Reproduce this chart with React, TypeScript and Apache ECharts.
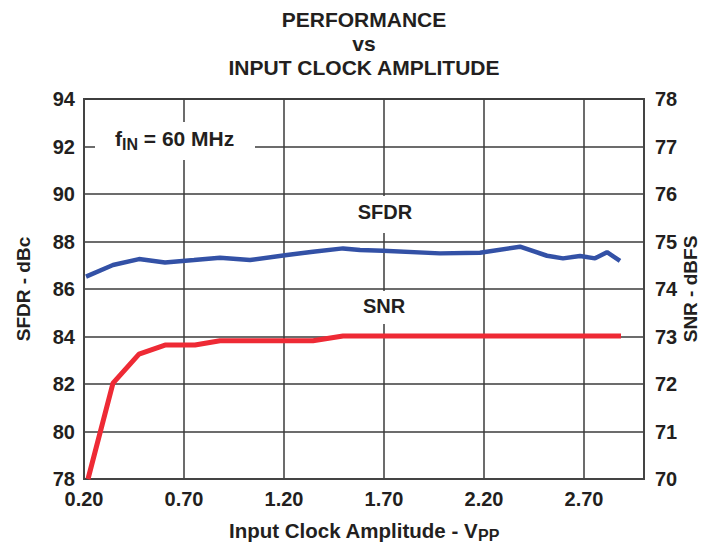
import React, { useEffect, useRef } from "react";
import * as echarts from "echarts";

// Input clock amplitude (V p-p) and measured values
const sfdrX = [0.21, 0.345, 0.475, 0.605, 0.75, 0.88, 1.03, 1.215, 1.345, 1.495, 1.58, 1.695, 1.98, 2.18, 2.38, 2.515, 2.595, 2.68, 2.755, 2.815, 2.88];
const sfdrDbc = [86.52, 87.01, 87.26, 87.12, 87.22, 87.32, 87.22, 87.43, 87.57, 87.71, 87.64, 87.61, 87.5, 87.53, 87.78, 87.4, 87.29, 87.39, 87.29, 87.55, 87.18];

const snrX = [0.22, 0.345, 0.475, 0.605, 0.755, 0.88, 1.345, 1.495, 2.885];
const snrDbfs = [70.0, 72.02, 72.63, 72.82, 72.82, 72.91, 72.91, 73.01, 73.01];

const xMin = 0.2;
const xMax = 3.0;
const xStep = 0.5;
const leftMin = 78;
const leftMax = 94;
const leftStep = 2;
const rightMin = 70;
const rightMax = 78;
const rightStep = 1;

const TXT = "#231f20";
const FONT = "'Liberation Sans', Arial, sans-serif";

export default function App() {
  const ref = useRef<HTMLDivElement>(null);

  useEffect(() => {
    if (!ref.current) return;
    const chart = echarts.init(ref.current, null, { renderer: "svg" });
    const labelBox = (x: number, y: number, w: number, h: number) => ({
      type: "rect",
      z: 10,
      shape: { x, y, width: w, height: h },
      style: { fill: "#ffffff" },
    });
    chart.setOption({
      animation: false,
      backgroundColor: "#ffffff",
      textStyle: { fontFamily: FONT, color: TXT },
      title: {
        text: "PERFORMANCE\nvs\nINPUT CLOCK AMPLITUDE",
        left: 364,
        top: 7,
        padding: 0,
        textAlign: "center",
        textStyle: {
          fontFamily: FONT,
          fontSize: 21,
          fontWeight: "bold",
          color: TXT,
          lineHeight: 24,
        },
      },
      grid: {
        left: 84,
        right: 64,
        top: 99,
        bottom: 69,
        containLabel: false,
        outerBoundsMode: "none",
        show: true,
        borderColor: "#444",
        borderWidth: 2,
        backgroundColor: "transparent",
      },
      xAxis: {
        type: "value",
        min: xMin,
        max: xMax,
        interval: xStep,
        name: "{a|Input Clock Amplitude - V}{s|PP}",
        nameLocation: "middle",
        nameGap: 38,
        nameTextStyle: {
          rich: {
            a: { fontFamily: FONT, fontSize: 20.5, fontWeight: "bold", color: TXT },
            s: { fontFamily: FONT, fontSize: 16, fontWeight: "bold", color: TXT, padding: [10, 0, 0, 0] },
          },
        },
        axisLine: { show: true, lineStyle: { color: "#444", width: 2 } },
        axisTick: { show: false },
        axisLabel: {
          margin: 10,
          fontFamily: FONT,
          fontSize: 20,
          fontWeight: "bold",
          color: TXT,
          showMaxLabel: false,
          formatter: (v: number) => v.toFixed(2),
        },
        splitLine: { show: true, lineStyle: { color: "#3b3b3b", width: 1.5 } },
      },
      yAxis: [
        {
          type: "value",
          min: leftMin,
          max: leftMax,
          interval: leftStep,
          position: "left",
          name: "SFDR - dBc",
          nameLocation: "middle",
          nameGap: 51,
          nameTextStyle: { fontFamily: FONT, fontSize: 19, fontWeight: "bold", color: TXT },
          axisLine: { show: true, lineStyle: { color: "#444", width: 2 } },
          axisTick: { show: false },
          axisLabel: { margin: 9, fontFamily: FONT, fontSize: 20, fontWeight: "bold", color: TXT },
          splitLine: { show: true, lineStyle: { color: "#3b3b3b", width: 1.5 } },
        },
        {
          type: "value",
          min: rightMin,
          max: rightMax,
          interval: rightStep,
          position: "right",
          name: "SNR - dBFS",
          nameLocation: "middle",
          nameGap: 37,
          nameRotate: 90,
          nameMoveOverlap: false,
          nameTextStyle: { fontFamily: FONT, fontSize: 19, fontWeight: "bold", color: TXT },
          axisLine: { show: true, lineStyle: { color: "#444", width: 2 } },
          axisTick: { show: false },
          axisLabel: { margin: 11, fontFamily: FONT, fontSize: 20, fontWeight: "bold", color: TXT },
          splitLine: { show: false },
        },
      ],
      series: [
        {
          name: "SFDR",
          type: "line",
          yAxisIndex: 0,
          showSymbol: false,
          z: 5,
          data: sfdrX.map((x, i) => [x, sfdrDbc[i]]),
          lineStyle: { color: "#3351A6", width: 4.5 },
          itemStyle: { color: "#3351A6" },
        },
        {
          name: "SNR",
          type: "line",
          yAxisIndex: 1,
          showSymbol: false,
          z: 5,
          data: snrX.map((x, i) => [x, snrDbfs[i]]),
          lineStyle: { color: "#EE2A35", width: 5 },
          itemStyle: { color: "#EE2A35" },
        },
      ],
      graphic: [
        labelBox(95, 122, 160, 38),
        {
          type: "text",
          z: 11,
          x: 115,
          y: 138,
          style: {
            text: "{m|f}{s|IN}{m| = 60 MHz}",
            verticalAlign: "middle",
            align: "left",
            rich: {
              m: { fontFamily: FONT, fontSize: 21, fontWeight: "bold", fill: TXT },
              s: { fontFamily: FONT, fontSize: 16, fontWeight: "bold", fill: TXT, padding: [13, 0, 0, 0] },
            },
          },
        },
        labelBox(355, 196, 60, 37),
        {
          type: "text",
          z: 11,
          x: 385,
          y: 212,
          style: {
            text: "SFDR",
            align: "center",
            verticalAlign: "middle",
            fontFamily: FONT,
            fontSize: 20,
            fontWeight: "bold",
            fill: TXT,
          },
        },
        labelBox(358, 291, 52, 33),
        {
          type: "text",
          z: 11,
          x: 384,
          y: 306,
          style: {
            text: "SNR",
            align: "center",
            verticalAlign: "middle",
            fontFamily: FONT,
            fontSize: 20,
            fontWeight: "bold",
            fill: TXT,
          },
        },
      ],
    });
    return () => chart.dispose();
  }, []);

  return (
    <div
      ref={ref}
      style={{ position: "absolute", left: 0, top: 0, width: 708, height: 548 }}
    />
  );
}
